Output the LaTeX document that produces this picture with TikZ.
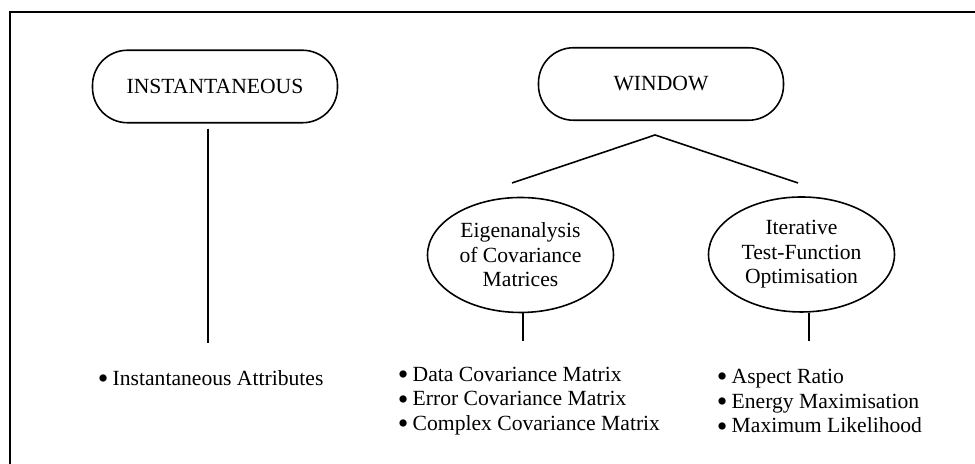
\documentclass[tikz,border=0pt]{standalone}
\usepackage{fontspec}
\setmainfont{Liberation Serif}
\usetikzlibrary{shapes.geometric}
\newcommand{\bul}{\smash{\raisebox{-0.16em}{\scalebox{1.4}{\textbullet}}}\hspace{0.2em}}
\begin{document}
\begin{tikzpicture}[line width=0.9pt,every node/.style={font=\fontsize{12.3}{14}\selectfont},
  box/.style={draw,rounded corners=0.7cm,minimum width=4.9cm,minimum height=1.45cm},
  oval/.style={draw,ellipse,inner sep=0pt,minimum width=3.72cm,minimum height=2.3cm,align=center},
  list/.style={anchor=west,align=left,inner sep=0pt}]
\useasboundingbox (0,0) rectangle (19.5,9.28);
\draw (0.2,0) -- (0.2,9.04) -- (19.5,9.04);
% top level
\node[box] (inst) at (4.3,7.55) {INSTANTANEOUS};
\node[box] (window) at (13.22,7.6) {WINDOW};
\coordinate (instend) at (4.16,2.42);
\draw[shorten <=1mm] (inst.south -| instend) -- (instend);
% window branches
\coordinate (apex) at (13.1,6.58);
\coordinate (vleft) at (10.24,5.62);
\coordinate (vright) at (15.96,5.62);
\draw (vleft) -- (apex) -- (vright);
\node[oval] (eigen) at (10.41,4.18) {Eigenanalysis\\of Covariance\\Matrices};
\node[oval] (iter) at (16.03,4.19) {Iterative\\Test-Function\\Optimisation};
\coordinate (eigenend) at (10.46,2.46);
\coordinate (iterend) at (16.18,2.46);
\draw (eigen.south -| eigenend) -- (eigenend);
\draw (iter.south -| iterend) -- (iterend);
% methods
\node[list] (attr) at (1.94,1.72) {\bul Instantaneous Attributes};
\node[list] (eigenlist) at (7.94,1.26) {\bul Data Covariance Matrix\\\bul Error Covariance Matrix\\\bul Complex Covariance Matrix};
\node[list] (iterlist) at (14.32,1.26) {\bul Aspect Ratio\\\bul Energy Maximisation\\\bul Maximum Likelihood};
\end{tikzpicture}
\end{document}
